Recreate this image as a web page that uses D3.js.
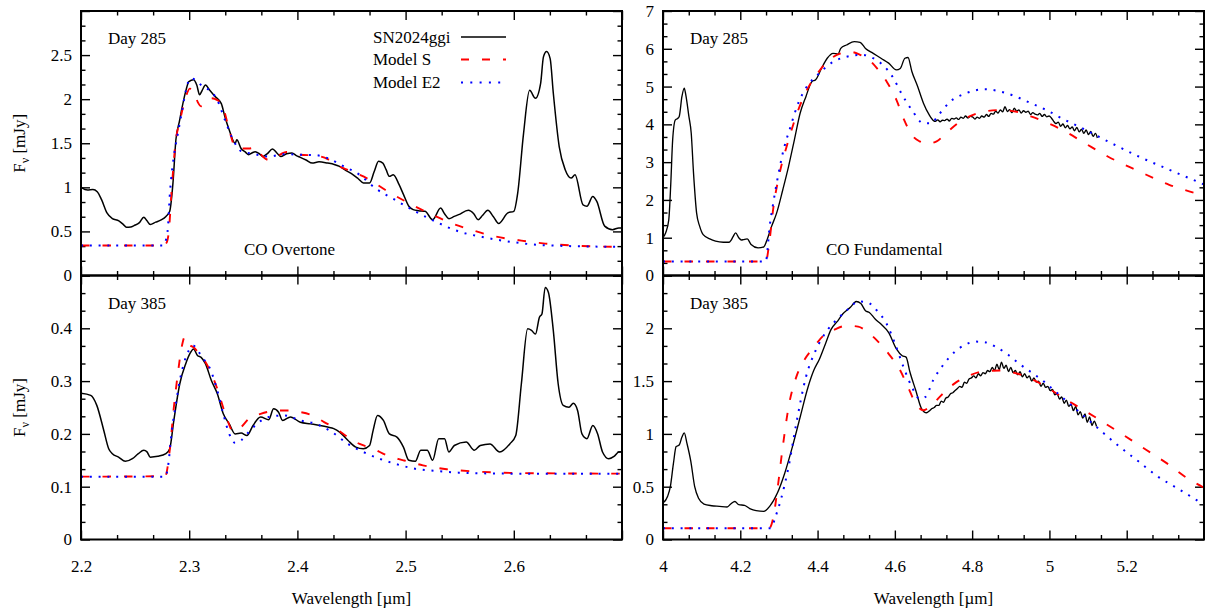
<!DOCTYPE html>
<html><head><meta charset="utf-8">
<script src="https://cdn.jsdelivr.net/npm/d3@7"></script>
<style>
body{margin:0;background:#fff}
svg text{font-family:"Liberation Serif","Times New Roman",serif;font-size:17px;fill:#000}
</style></head><body><svg id="c" width="1205" height="611"></svg>
<script>
// ---------- DATA (wavelength µm, flux mJy) ----------
const tlObs = [[2.200,1.00],[2.206,0.97],[2.211,0.975],[2.215,0.95],[2.219,0.86],[2.224,0.71],[2.229,0.645],[2.235,0.62],[2.239,0.58],[2.242,0.548],[2.246,0.55],[2.249,0.566],[2.254,0.60],[2.258,0.66],[2.261,0.62],[2.264,0.578],[2.269,0.605],[2.274,0.63],[2.2785,0.67],[2.282,0.73],[2.285,1.05],[2.2877,1.54],[2.291,1.75],[2.293,1.88],[2.297,2.10],[2.2997,2.20],[2.304,2.22],[2.307,2.16],[2.3096,2.05],[2.312,2.10],[2.315,2.16],[2.319,2.10],[2.324,2.03],[2.3297,1.95],[2.333,1.80],[2.337,1.65],[2.3425,1.50],[2.344,1.54],[2.348,1.44],[2.352,1.40],[2.355,1.37],[2.358,1.39],[2.361,1.405],[2.365,1.38],[2.368,1.35],[2.372,1.38],[2.377,1.435],[2.381,1.39],[2.3845,1.35],[2.39,1.38],[2.395,1.39],[2.399,1.36],[2.4027,1.34],[2.408,1.31],[2.4137,1.275],[2.42,1.29],[2.428,1.275],[2.434,1.26],[2.439,1.237],[2.445,1.19],[2.45,1.155],[2.456,1.10],[2.461,1.05],[2.4667,1.05],[2.471,1.18],[2.475,1.295],[2.479,1.275],[2.482,1.20],[2.485,1.125],[2.4886,1.142],[2.494,1.03],[2.498,0.92],[2.503,0.785],[2.507,0.747],[2.512,0.735],[2.518,0.728],[2.525,0.633],[2.5324,0.765],[2.536,0.70],[2.54,0.645],[2.545,0.67],[2.549,0.69],[2.558,0.74],[2.563,0.70],[2.567,0.633],[2.571,0.68],[2.576,0.74],[2.581,0.67],[2.586,0.59],[2.5945,0.71],[2.6,0.728],[2.6036,0.935],[2.609,1.61],[2.6146,2.10],[2.62,2.01],[2.6248,2.18],[2.6274,2.48],[2.6303,2.54],[2.6336,2.46],[2.6365,2.07],[2.642,1.46],[2.6475,1.20],[2.653,1.105],[2.6566,1.142],[2.664,0.80],[2.6676,0.785],[2.673,0.897],[2.6767,0.84],[2.684,0.56],[2.6913,0.52],[2.697,0.54],[2.70,0.54]];
const tlModelS = [[2.2,0.34],[2.276,0.34],[2.279,0.37],[2.281,0.48],[2.284,1.01],[2.2877,1.54],[2.291,1.73],[2.297,2.03],[2.3005,2.12],[2.304,2.10],[2.3078,1.97],[2.311,1.92],[2.315,1.95],[2.32,2.01],[2.326,1.99],[2.3315,1.90],[2.337,1.65],[2.3425,1.46],[2.348,1.44],[2.355,1.44],[2.361,1.45],[2.368,1.35],[2.3735,1.31],[2.381,1.35],[2.39,1.40],[2.4027,1.37],[2.417,1.36],[2.428,1.32],[2.4356,1.256],[2.446,1.20],[2.4667,1.086],[2.481,0.973],[2.5,0.84],[2.518,0.728],[2.538,0.615],[2.56,0.52],[2.582,0.445],[2.607,0.396],[2.629,0.362],[2.655,0.34],[2.70,0.324]];
const tlModelE2 = [[2.2,0.34],[2.276,0.34],[2.28,0.50],[2.2822,0.935],[2.2858,1.35],[2.2895,1.61],[2.293,1.84],[2.297,2.10],[2.301,2.236],[2.306,2.217],[2.311,2.16],[2.3187,2.10],[2.326,1.99],[2.333,1.765],[2.3406,1.54],[2.348,1.41],[2.359,1.38],[2.3735,1.35],[2.388,1.376],[2.4027,1.37],[2.417,1.365],[2.428,1.33],[2.443,1.237],[2.4575,1.142],[2.472,0.99],[2.49,0.86],[2.5087,0.728],[2.527,0.615],[2.549,0.50],[2.571,0.437],[2.6,0.377],[2.629,0.343],[2.70,0.324]];

const blObs = [[2.2,0.277],[2.209,0.273],[2.2146,0.254],[2.221,0.207],[2.2256,0.172],[2.229,0.1625],[2.2347,0.156],[2.241,0.148],[2.2475,0.153],[2.253,0.1625],[2.258,0.169],[2.261,0.166],[2.264,0.156],[2.271,0.1575],[2.2785,0.1625],[2.282,0.172],[2.2858,0.2255],[2.2913,0.295],[2.2968,0.333],[2.3005,0.3515],[2.304,0.361],[2.3078,0.348],[2.311,0.345],[2.315,0.333],[2.3205,0.301],[2.326,0.276],[2.3315,0.238],[2.337,0.219],[2.3425,0.20],[2.348,0.2016],[2.3534,0.197],[2.359,0.216],[2.366,0.232],[2.3735,0.227],[2.378,0.2475],[2.3826,0.241],[2.3863,0.2255],[2.3936,0.232],[2.4027,0.222],[2.412,0.219],[2.421,0.216],[2.428,0.213],[2.4336,0.21],[2.439,0.2035],[2.4466,0.188],[2.454,0.175],[2.461,0.172],[2.4667,0.178],[2.47,0.2066],[2.474,0.235],[2.4795,0.2255],[2.485,0.20],[2.492,0.194],[2.498,0.175],[2.503,0.15],[2.509,0.148],[2.514,0.169],[2.52,0.169],[2.525,0.15],[2.5306,0.191],[2.536,0.191],[2.54,0.1657],[2.545,0.178],[2.556,0.1846],[2.5635,0.169],[2.569,0.178],[2.578,0.181],[2.587,0.1657],[2.5963,0.181],[2.6018,0.197],[2.607,0.295],[2.6128,0.399],[2.6164,0.396],[2.62,0.389],[2.6237,0.421],[2.626,0.427],[2.629,0.4775],[2.632,0.468],[2.6365,0.396],[2.641,0.295],[2.6457,0.254],[2.651,0.2507],[2.655,0.258],[2.659,0.244],[2.663,0.20],[2.6676,0.191],[2.673,0.216],[2.6775,0.20],[2.682,0.1657],[2.6877,0.153],[2.693,0.158],[2.697,0.1657],[2.70,0.166]];
const blModelS = [[2.2,0.119],[2.278,0.12],[2.2785,0.122],[2.282,0.169],[2.2858,0.25],[2.2895,0.314],[2.293,0.364],[2.296,0.384],[2.2987,0.37],[2.304,0.364],[2.3096,0.351],[2.315,0.336],[2.3205,0.314],[2.326,0.285],[2.3334,0.238],[2.3406,0.2054],[2.348,0.213],[2.355,0.2287],[2.366,0.238],[2.3826,0.2444],[2.392,0.2444],[2.4027,0.2413],[2.414,0.235],[2.4247,0.2224],[2.4356,0.21],[2.4466,0.194],[2.4575,0.181],[2.47,0.172],[2.483,0.159],[2.498,0.15],[2.516,0.1405],[2.538,0.133],[2.5635,0.129],[2.6,0.126],[2.70,0.1247]];
const blModelE2 = [[2.2,0.119],[2.278,0.119],[2.2803,0.137],[2.284,0.207],[2.2877,0.257],[2.2913,0.301],[2.295,0.333],[2.2997,0.358],[2.304,0.367],[2.3078,0.358],[2.3132,0.342],[2.3187,0.326],[2.326,0.282],[2.3315,0.238],[2.337,0.20],[2.3425,0.183],[2.348,0.188],[2.355,0.2035],[2.3626,0.219],[2.3735,0.232],[2.388,0.235],[2.4027,0.2255],[2.417,0.219],[2.4319,0.2035],[2.4466,0.181],[2.461,0.1657],[2.4758,0.153],[2.49,0.1436],[2.5087,0.134],[2.527,0.13],[2.549,0.1266],[2.6,0.1247],[2.70,0.1247]];

const trObs = [[4.000,1.01],[4.007,1.13],[4.015,1.48],[4.020,2.40],[4.025,3.59],[4.032,4.12],[4.037,4.15],[4.042,4.21],[4.049,4.74],[4.055,4.96],[4.059,4.78],[4.067,4.21],[4.073,3.77],[4.079,2.71],[4.087,1.65],[4.095,1.30],[4.104,1.08],[4.121,0.97],[4.136,0.91],[4.156,0.88],[4.171,0.88],[4.176,0.93],[4.181,1.02],[4.188,1.13],[4.196,1.00],[4.203,0.94],[4.208,0.95],[4.218,0.97],[4.228,0.82],[4.246,0.73],[4.261,0.76],[4.268,0.91],[4.281,1.30],[4.294,1.65],[4.310,2.27],[4.325,2.89],[4.340,3.59],[4.355,4.30],[4.370,4.74],[4.385,5.13],[4.395,5.18],[4.410,5.48],[4.425,5.75],[4.440,5.88],[4.453,5.86],[4.460,6.01],[4.475,6.10],[4.495,6.19],[4.510,6.17],[4.524,6.01],[4.544,5.88],[4.564,5.75],[4.584,5.62],[4.604,5.44],[4.614,5.48],[4.626,5.75],[4.634,5.77],[4.644,5.40],[4.659,5.00],[4.674,4.56],[4.689,4.25],[4.700,4.10],
[4.705,4.08],[4.711,4.12],[4.717,4.07],[4.723,4.11],[4.729,4.10],[4.735,4.14],[4.741,4.09],[4.747,4.16],[4.753,4.14],[4.759,4.17],[4.765,4.13],[4.771,4.19],[4.777,4.16],[4.783,4.22],[4.789,4.17],[4.795,4.21],[4.801,4.20],[4.807,4.14],[4.813,4.19],[4.819,4.16],[4.825,4.22],[4.831,4.19],[4.837,4.26],[4.843,4.21],[4.849,4.29],[4.855,4.27],[4.861,4.35],[4.867,4.30],[4.873,4.38],[4.879,4.33],[4.885,4.47],[4.891,4.34],[4.897,4.39],[4.903,4.31],[4.909,4.43],[4.915,4.35],[4.921,4.38],[4.927,4.30],[4.933,4.36],[4.939,4.32],[4.945,4.35],[4.951,4.26],[4.957,4.31],[4.963,4.27],[4.969,4.25],[4.975,4.29],[4.981,4.21],[4.987,4.26],[4.993,4.20],[4.999,4.22],[5.005,4.17],[5.011,4.08],[5.017,4.02],[5.023,4.06],[5.029,3.95],[5.035,4.01],[5.041,3.91],[5.047,3.97],[5.053,3.88],[5.059,3.93],[5.065,3.83],[5.071,3.92],[5.077,3.80],[5.083,3.87],[5.089,3.76],[5.095,3.85],[5.101,3.73],[5.107,3.81],[5.113,3.68],[5.119,3.76],[5.124,3.64]];
const trModelS = [[4.0,0.37],[4.266,0.37],[4.276,0.95],[4.286,1.83],[4.30,2.62],[4.325,3.59],[4.35,4.38],[4.375,4.96],[4.40,5.35],[4.425,5.66],[4.46,5.88],[4.485,5.92],[4.51,5.84],[4.534,5.70],[4.554,5.48],[4.579,5.13],[4.604,4.65],[4.624,4.12],[4.644,3.72],[4.664,3.55],[4.684,3.49],[4.708,3.55],[4.733,3.77],[4.763,4.03],[4.793,4.21],[4.833,4.34],[4.873,4.38],[4.912,4.34],[4.952,4.21],[4.992,4.05],[5.032,3.86],[5.092,3.50],[5.151,3.15],[5.231,2.76],[5.31,2.40],[5.40,2.12]];
const trModelE2 = [[4.0,0.37],[4.266,0.37],[4.276,1.30],[4.286,1.96],[4.296,2.54],[4.31,3.24],[4.33,3.94],[4.35,4.56],[4.375,5.04],[4.40,5.31],[4.435,5.62],[4.475,5.79],[4.514,5.84],[4.544,5.75],[4.569,5.57],[4.594,5.26],[4.619,4.78],[4.644,4.38],[4.674,4.03],[4.694,4.03],[4.713,4.25],[4.743,4.60],[4.783,4.82],[4.833,4.93],[4.873,4.87],[4.912,4.74],[4.952,4.56],[4.992,4.38],[5.032,4.16],[5.092,3.86],[5.151,3.55],[5.231,3.15],[5.31,2.80],[5.40,2.41]];

const brObs = [[4.000,0.345],[4.012,0.41],[4.019,0.50],[4.027,0.72],[4.034,0.88],[4.042,0.895],[4.049,0.97],[4.055,1.01],[4.062,0.91],[4.072,0.74],[4.082,0.50],[4.092,0.39],[4.106,0.336],[4.126,0.32],[4.146,0.314],[4.166,0.308],[4.176,0.339],[4.186,0.36],[4.196,0.33],[4.211,0.323],[4.226,0.289],[4.241,0.273],[4.261,0.267],[4.276,0.314],[4.296,0.44],[4.315,0.628],[4.335,0.88],[4.355,1.16],[4.375,1.44],[4.39,1.60],[4.405,1.71],[4.42,1.85],[4.435,1.99],[4.45,2.06],[4.465,2.135],[4.485,2.20],[4.50,2.254],[4.512,2.235],[4.524,2.166],[4.534,2.15],[4.549,2.088],[4.564,2.04],[4.584,1.96],[4.604,1.805],[4.619,1.74],[4.629,1.727],[4.639,1.586],[4.654,1.413],[4.669,1.24],[4.682,1.20],
[4.690,1.22],[4.696,1.24],[4.702,1.25],[4.708,1.27],[4.714,1.27],[4.720,1.31],[4.726,1.30],[4.732,1.34],[4.738,1.35],[4.744,1.38],[4.750,1.39],[4.756,1.41],[4.762,1.43],[4.768,1.45],[4.774,1.44],[4.780,1.49],[4.786,1.48],[4.792,1.52],[4.798,1.53],[4.804,1.55],[4.810,1.53],[4.816,1.57],[4.822,1.55],[4.828,1.58],[4.834,1.57],[4.840,1.60],[4.846,1.59],[4.852,1.63],[4.858,1.60],[4.864,1.66],[4.870,1.61],[4.876,1.68],[4.882,1.62],[4.888,1.65],[4.894,1.59],[4.900,1.63],[4.906,1.58],[4.912,1.60],[4.918,1.56],[4.924,1.59],[4.930,1.54],[4.936,1.57],[4.942,1.53],[4.948,1.55],[4.954,1.50],[4.960,1.53],[4.966,1.49],[4.972,1.50],[4.978,1.45],[4.984,1.48],[4.990,1.44],[4.996,1.45],[5.002,1.41],[5.008,1.42],[5.014,1.37],[5.020,1.38],[5.026,1.33],[5.032,1.35],[5.038,1.29],[5.044,1.32],[5.050,1.26],[5.056,1.28],[5.062,1.22],[5.068,1.26],[5.074,1.18],[5.080,1.21],[5.086,1.15],[5.092,1.19],[5.098,1.11],[5.104,1.16],[5.110,1.08],[5.116,1.12],[5.122,1.07]];
const brModelS = [[4.0,0.107],[4.275,0.107],[4.286,0.22],[4.296,0.47],[4.31,0.88],[4.325,1.256],[4.345,1.54],[4.365,1.695],[4.39,1.82],[4.415,1.93],[4.445,1.99],[4.475,2.025],[4.505,2.016],[4.524,1.98],[4.554,1.884],[4.584,1.758],[4.614,1.60],[4.634,1.444],[4.654,1.287],[4.674,1.224],[4.694,1.27],[4.724,1.38],[4.754,1.476],[4.793,1.554],[4.833,1.595],[4.873,1.60],[4.912,1.576],[4.952,1.523],[4.992,1.444],[5.032,1.35],[5.082,1.24],[5.131,1.13],[5.191,0.99],[5.251,0.848],[5.31,0.706],[5.35,0.597],[5.40,0.49]];
const brModelE2 = [[4.0,0.107],[4.28,0.107],[4.29,0.204],[4.305,0.377],[4.325,0.69],[4.345,1.10],[4.37,1.54],[4.395,1.79],[4.425,1.98],[4.455,2.10],[4.485,2.20],[4.504,2.254],[4.529,2.245],[4.554,2.166],[4.579,2.04],[4.599,1.868],[4.624,1.617],[4.644,1.444],[4.664,1.334],[4.679,1.35],[4.699,1.507],[4.724,1.648],[4.754,1.774],[4.783,1.846],[4.808,1.874],[4.833,1.868],[4.863,1.82],[4.893,1.75],[4.922,1.664],[4.952,1.586],[4.982,1.507],[5.012,1.413],[5.042,1.319],[5.082,1.193],[5.131,1.036],[5.181,0.88],[5.231,0.738],[5.28,0.597],[5.33,0.487],[5.40,0.33]];

// ---------- TICKS ----------
const xTicksLeft = [2.2,2.3,2.4,2.5,2.6,2.7];
const xTickLabelsLeft = ["2.2","2.3","2.4","2.5","2.6",""];
const xTicksRight = [4,4.2,4.4,4.6,4.8,5,5.2,5.4];
const xTickLabelsRight = ["4","4.2","4.4","4.6","4.8","5","5.2",""];
const yTicksTL = [0,0.5,1,1.5,2,2.5,3];
const yTickLabelsTL = ["0","0.5","1","1.5","2","2.5",""];
const yTicksBL = [0,0.1,0.2,0.3,0.4,0.5];
const yTickLabelsBL = ["0","0.1","0.2","0.3","0.4",""];
const yTicksTR = [0,1,2,3,4,5,6,7];
const yTickLabelsTR = ["0","1","2","3","4","5","6","7"];
const yTicksBR = [0,0.5,1,1.5,2,2.5];
const yTickLabelsBR = ["0","0.5","1","1.5","2",""];

const seriesNames = ["SN2024ggi","Model S","Model E2"];
const dayLabels = ["Day 285","Day 385"];
const bandLabels = ["CO Overtone","CO Fundamental"];

// ---------- LAYOUT ----------
const svg = d3.select("#c");
const colLeft = [81, 622], colRight = [663, 1204];
const rowTop = [275.5, 11], rowBot = [539.5, 275.5];

const panels = [
  {id:"tl", xr:colLeft, yr:rowTop, xd:[2.2,2.7], yd:[0,3], xt:xTicksLeft, xl:xTickLabelsLeft, yt:yTicksTL, yl:yTickLabelsTL, obs:tlObs, s:tlModelS, e:tlModelE2, bottom:false, day:dayLabels[0], band:bandLabels[0], ow:1.5},
  {id:"bl", xr:colLeft, yr:rowBot, xd:[2.2,2.7], yd:[0,0.5], xt:xTicksLeft, xl:xTickLabelsLeft, yt:yTicksBL, yl:yTickLabelsBL, obs:blObs, s:blModelS, e:blModelE2, bottom:true, day:dayLabels[1], ow:1.5},
  {id:"tr", xr:colRight, yr:rowTop, xd:[4,5.4], yd:[0,7], xt:xTicksRight, xl:xTickLabelsRight, yt:yTicksTR, yl:yTickLabelsTR, obs:trObs, s:trModelS, e:trModelE2, bottom:false, day:dayLabels[0], band:bandLabels[1], ow:1.35},
  {id:"br", xr:colRight, yr:rowBot, xd:[4,5.4], yd:[0,2.5], xt:xTicksRight, xl:xTickLabelsRight, yt:yTicksBR, yl:yTickLabelsBR, obs:brObs, s:brModelS, e:brModelE2, bottom:true, day:dayLabels[1], ow:1.35}
];

function minors(t){
  const m=[];
  for(let i=0;i<t.length-1;i++){const a=t[i],b=t[i+1];m.push(a+(b-a)/3,a+2*(b-a)/3);}
  return m;
}
function styleAxis(g){
  g.select(".domain").remove();
  g.selectAll("line").attr("stroke","#000").attr("stroke-width",1.4);
}

panels.forEach(p=>{
  const x=d3.scaleLinear().domain(p.xd).range(p.xr);
  const y=d3.scaleLinear().domain(p.yd).range(p.yr);
  const g=svg.append("g");
  const clipId="clip-"+p.id;
  svg.append("defs").append("clipPath").attr("id",clipId).append("rect")
    .attr("x",p.xr[0]).attr("y",p.yr[1]).attr("width",p.xr[1]-p.xr[0]).attr("height",p.yr[0]-p.yr[1]);

  const yb=p.yr[0], yt=p.yr[1], xl=p.xr[0], xr=p.xr[1];
  g.append("g").attr("transform",`translate(0,${yb})`)
    .call(d3.axisBottom(x).tickValues(p.xt).tickSizeInner(-9).tickSizeOuter(0).tickPadding(20)
      .tickFormat((d,i)=>p.bottom?p.xl[i]:"")).call(styleAxis);
  g.append("g").attr("transform",`translate(0,${yb})`)
    .call(d3.axisBottom(x).tickValues(minors(p.xt)).tickSizeInner(-4.5).tickSizeOuter(0).tickFormat(()=>"")).call(styleAxis);
  g.append("g").attr("transform",`translate(0,${yt})`)
    .call(d3.axisTop(x).tickValues(p.xt).tickSizeInner(-9).tickSizeOuter(0).tickFormat(()=>"")).call(styleAxis);
  g.append("g").attr("transform",`translate(0,${yt})`)
    .call(d3.axisTop(x).tickValues(minors(p.xt)).tickSizeInner(-4.5).tickSizeOuter(0).tickFormat(()=>"")).call(styleAxis);
  g.append("g").attr("transform",`translate(${xl},0)`)
    .call(d3.axisLeft(y).tickValues(p.yt).tickSizeInner(-9).tickSizeOuter(0).tickPadding(9)
      .tickFormat((d,i)=>p.yl[i])).call(styleAxis);
  g.append("g").attr("transform",`translate(${xl},0)`)
    .call(d3.axisLeft(y).tickValues(minors(p.yt)).tickSizeInner(-4.5).tickSizeOuter(0).tickFormat(()=>"")).call(styleAxis);
  g.append("g").attr("transform",`translate(${xr},0)`)
    .call(d3.axisRight(y).tickValues(p.yt).tickSizeInner(-9).tickSizeOuter(0).tickFormat(()=>"")).call(styleAxis);
  g.append("g").attr("transform",`translate(${xr},0)`)
    .call(d3.axisRight(y).tickValues(minors(p.yt)).tickSizeInner(-4.5).tickSizeOuter(0).tickFormat(()=>"")).call(styleAxis);

  const line=d3.line().x(d=>x(d[0])).y(d=>y(d[1])).curve(d3.curveMonotoneX);
  const dg=g.append("g").attr("clip-path",`url(#${clipId})`);
  dg.append("path").datum(p.obs).attr("d",line).attr("fill","none").attr("stroke","#000").attr("stroke-width",p.ow).attr("stroke-linejoin","round");
  dg.append("path").datum(p.s).attr("d",line).attr("fill","none").attr("stroke","#ff0000").attr("stroke-width",1.9).attr("stroke-dasharray","8.5,13");
  dg.append("path").datum(p.e).attr("d",line).attr("fill","none").attr("stroke","#0000ff").attr("stroke-width",2).attr("stroke-dasharray","2,6.8");

  g.append("rect").attr("x",xl).attr("y",yt).attr("width",xr-xl).attr("height",yb-yt)
    .attr("fill","none").attr("stroke","#000").attr("stroke-width",2);

  g.append("text").attr("x",xl+27).attr("y",yt+33).text(p.day);
  if(p.band){
    g.append("text").attr("x",(p.id==="tl")?244:826).attr("y",255).text(p.band);
  }
});

// legend (top-left panel)
const legY=[37,59.5,82.5];
const legStyle=[{c:"#000",w:1.5,da:null},{c:"#ff0000",w:1.9,da:"8,13"},{c:"#0000ff",w:2,da:"2,7.3"}];
seriesNames.forEach((n,i)=>{
  svg.append("text").attr("x",373).attr("y",legY[i]+5.8).text(n);
  const l=svg.append("line").attr("x1",461).attr("x2",506).attr("y1",legY[i]).attr("y2",legY[i])
    .attr("stroke",legStyle[i].c).attr("stroke-width",legStyle[i].w);
  if(legStyle[i].da) l.attr("stroke-dasharray",legStyle[i].da);
});

// y-axis titles
[143.3,407.5].forEach(cy=>{
  const t=svg.append("text").attr("transform",`translate(25,${cy}) rotate(-90)`).attr("text-anchor","middle");
  t.append("tspan").text("F");
  t.append("tspan").attr("dy",4).style("font-size","12px").text("ν");
  t.append("tspan").attr("dy",-4).text(" [mJy]");
});
// x-axis titles
[351.5,933.5].forEach(cx=>{
  svg.append("text").attr("x",cx).attr("y",604).attr("text-anchor","middle").text("Wavelength [µm]");
});
</script></body></html>
